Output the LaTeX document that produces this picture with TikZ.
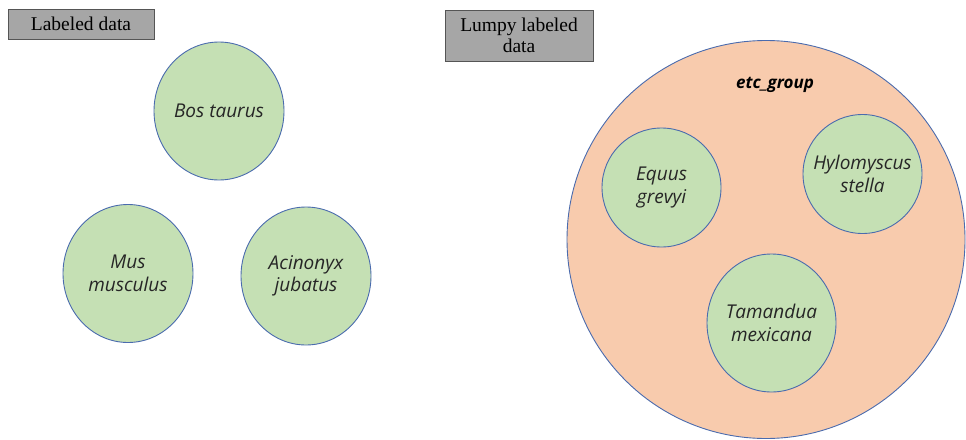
\documentclass[tikz,border=0pt]{standalone}
\usepackage{fontspec}
\usetikzlibrary{shapes.geometric}
\setmainfont{Liberation Serif}
\newfontfamily\circfont{Open Sans}
\definecolor{leaf}{HTML}{C5E0B4}
\definecolor{rim}{HTML}{4A6BAE}
\definecolor{peach}{HTML}{F8CBAD}
\definecolor{boxgray}{HTML}{A6A6A6}
\definecolor{boxrim}{HTML}{555555}
\begin{document}
\begin{tikzpicture}[x=1pt,y=-1pt,
  species/.style={ellipse, draw=rim, line width=0.9pt, fill=leaf, inner sep=-25pt,
     align=center, font=\circfont\itshape\fontsize{19}{22.5}\selectfont, text=black!85},
  tagbox/.style={draw=boxrim, line width=0.9pt, fill=boxgray, align=center,
     font=\fontsize{19.5}{21}\selectfont, inner sep=0pt}]
\useasboundingbox (0,0) rectangle (966,439);
% label boxes
\node[tagbox, minimum width=146pt, minimum height=30pt] (lab) at (81,24) {Labeled data};
\node[tagbox, minimum width=148pt, minimum height=51pt] (lumpy) at (519,35.5) {Lumpy labeled\\data};
% group circle
\node[circle, draw=rim, line width=0.9pt, fill=peach, minimum size=398pt, inner sep=0pt] (grp) at (766,239.5) {};
\node[font=\circfont\bfseries\itshape\fontsize{17}{20}\selectfont] (grplabel) at (775,85) {etc\_group};
% left circles
\node[species, minimum width=130pt, minimum height=138pt] (bos) at (219,111) {Bos taurus};
\node[species, minimum width=130pt, minimum height=138pt] (mus) at (128,273.5) {Mus\\musculus};
\node[species, minimum width=130pt, minimum height=138pt] (aci) at (306,276) {Acinonyx\\jubatus};
% inner circles
\node[species, minimum width=119pt, minimum height=119pt] (equ) at (661.5,187.5) {Equus\\grevyi};
\node[species, minimum width=119pt, minimum height=119pt] (hyl) at (862.5,174) {Hylomyscus\\stella};
\node[species, minimum width=129pt, minimum height=138pt] (tam) at (771.5,323) {Tamandua\\mexicana};
\end{tikzpicture}
\end{document}
